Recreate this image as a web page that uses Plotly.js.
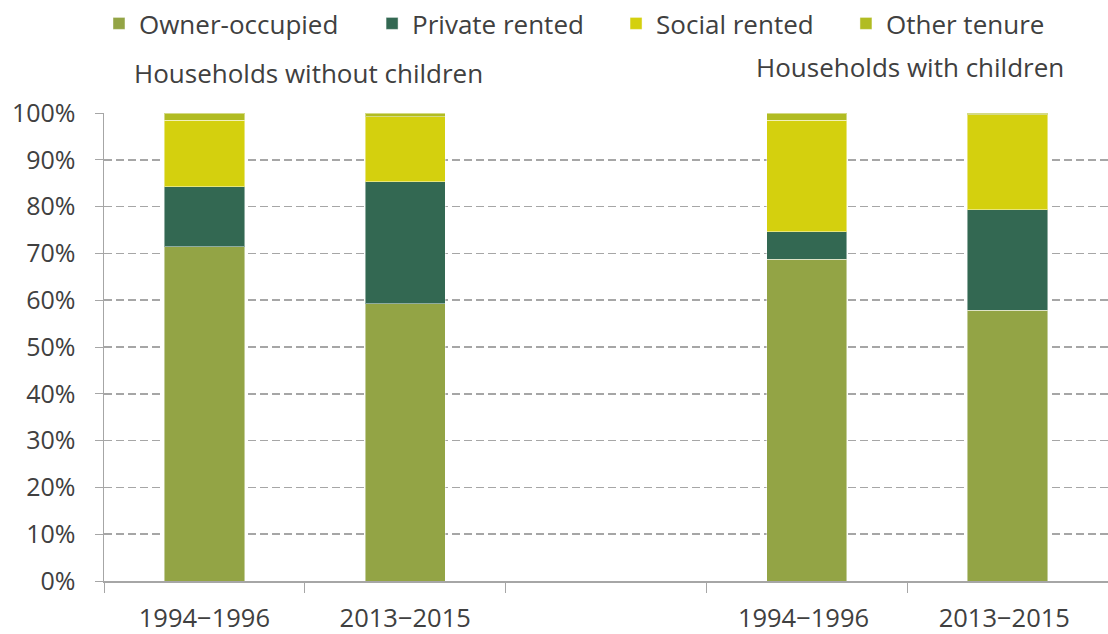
<!DOCTYPE html>
<html>
<head>
<meta charset="utf-8">
<script src="https://cdn.plot.ly/plotly-3.0.1.min.js"></script>
<style>html,body{margin:0;padding:0;background:#fff}#chart{width:1108px;height:634px}</style>
</head>
<body>
<div id="chart"></div>
<script>
const categories = ["1994\u22121996", "2013\u22122015", " ", "1994\u22121996 ", "2013\u22122015 "];
const barCategories = ["1994\u22121996", "2013\u22122015", "1994\u22121996 ", "2013\u22122015 "];
const ownerOccupied = [71.4, 59.2, 68.8, 57.9];
const privateRented = [12.8, 26.1, 5.8, 21.4];
const socialRented = [14.3, 13.9, 23.8, 20.3];
const otherTenure = [1.5, 0.8, 1.6, 0.4];
const seriesNames = ["Owner-occupied", "Private rented", "Social rented", "Other tenure"];
const groupTitles = ["Households without children", "Households with children"];
const yTickVals = [0, 10, 20, 30, 40, 50, 60, 70, 80, 90, 100];

const colors = ["#93a445", "#336852", "#d4d00e", "#b1bc22"];
const values = [ownerOccupied, privateRented, socialRented, otherTenure];
const legendIds = ["legend", "legend2", "legend3", "legend4"];
const legendX = [-0.005, 0.267, 0.510, 0.739];
const font = "'Open Sans', 'Noto Sans', sans-serif";

const traces = values.map((v, i) => ({
  type: "bar",
  name: seriesNames[i],
  x: barCategories,
  y: v,
  legend: legendIds[i],
  marker: {color: colors[i], line: {color: "rgba(255,255,255,0.45)", width: 1}},
  hoverinfo: "skip"
}));

const layout = {
  width: 1108, height: 634,
  margin: {l: 104, r: 0, t: 113, b: 53},
  barmode: "stack",
  bargap: 0.6,
  paper_bgcolor: "#fff", plot_bgcolor: "#fff",
  font: {family: font, size: 25, color: "#404040"},
  showlegend: true,
  xaxis: {
    type: "category", categoryorder: "array", categoryarray: categories,
    range: [-0.5, 4.5], tickson: "boundaries", ticks: "outside", ticklen: 10,
    tickcolor: "#a6a6a6", showline: true, linecolor: "#a6a6a6", linewidth: 1.5,
    showgrid: false, tickfont: {size: 25.5, color: "#404040"}, ticklabelstandoff: 14,
    fixedrange: true
  },
  yaxis: {
    range: [0, 100], tickvals: yTickVals, ticktext: yTickVals.map(v => v + "%"),
    ticks: "outside", ticklen: 8, tickcolor: "#a6a6a6",
    showline: true, linecolor: "#a6a6a6", linewidth: 1.5,
    showgrid: true, gridcolor: "#a6a6a6", griddash: "8px,4px", gridwidth: 1.5,
    zeroline: false, tickfont: {size: 25, color: "#404040"}, ticklabelstandoff: 14,
    fixedrange: true
  },
  annotations: [
    {text: groupTitles[0], xref: "paper", yref: "paper", x: 0.204, y: 1.085, showarrow: false,
     xanchor: "center", yanchor: "middle", font: {size: 26, color: "#404040"}},
    {text: groupTitles[1], xref: "paper", yref: "paper", x: 0.803, y: 1.098, showarrow: false,
     xanchor: "center", yanchor: "middle", font: {size: 26, color: "#404040"}}
  ]
};
legendIds.forEach((id, i) => {
  layout[id] = {orientation: "h", x: legendX[i], xanchor: "left", y: 1, yref: "container", yanchor: "top",
                font: {size: 26, color: "#404040"}, itemwidth: 30, bgcolor: "rgba(0,0,0,0)"};
});

Plotly.newPlot("chart", traces, layout, {displayModeBar: false, staticPlot: true});
</script>
</body>
</html>
